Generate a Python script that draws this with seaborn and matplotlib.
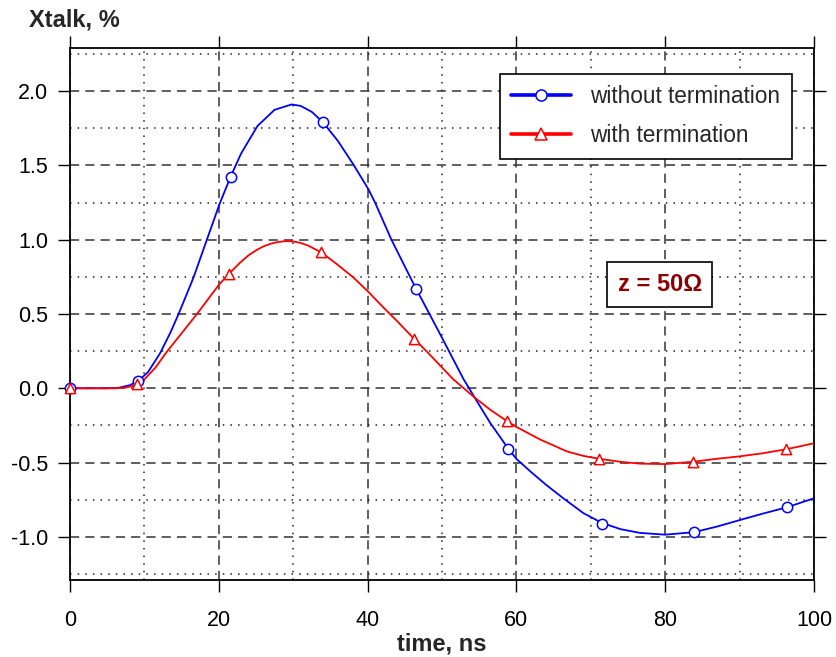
import matplotlib
matplotlib.use("Agg")
import matplotlib.pyplot as plt
import seaborn as sns
from matplotlib.lines import Line2D
from matplotlib.ticker import MultipleLocator, FormatStrFormatter

# ---- data ----
blue_x = [0, 5, 6.5, 8, 9.2, 10.5, 12.1, 13.5, 14.6, 16.6, 18.4, 20.1, 21.6, 23, 25.2,
          27.5, 29.8, 31, 32.5, 34.0, 36, 38.1, 40.1, 41.0, 43.2, 45.0, 46.5, 48, 50,
          52.9, 54.4, 56.45, 58.9, 60.0, 62, 64, 66.3, 69, 71.5, 74, 76.6, 80, 83.9, 87,
          90, 93, 96.4, 100]
blue_y = [0, 0, 0.003, 0.02, 0.05, 0.11, 0.235, 0.375, 0.50, 0.745, 1.0, 1.24, 1.425, 1.58,
          1.765, 1.874, 1.91, 1.90, 1.86, 1.79, 1.665, 1.505, 1.34, 1.25, 1.0, 0.82, 0.671,
          0.53, 0.34, 0.061, -0.063, -0.231, -0.406, -0.475, -0.565, -0.65, -0.74, -0.84,
          -0.906, -0.948, -0.973, -0.985, -0.968, -0.93, -0.887, -0.845, -0.80, -0.74]

red_x = [0, 6, 7.5, 8.74, 10, 11.5, 13.0, 15, 17.0, 20.07, 21.4, 22.85, 24, 25, 26, 27, 28,
         29.0, 30, 31, 32, 33.8, 36, 38.1, 40.1, 42, 44, 46.3, 48, 50, 51.5, 54.4, 56.5,
         58.7, 60.0, 63.2, 66.8, 69, 71.1, 74, 76.6, 80, 83.8, 87, 90, 93, 96.3, 100]
red_y = [0, 0, 0.005, 0.02, 0.06, 0.14, 0.245, 0.37, 0.496, 0.70, 0.772, 0.845, 0.895,
         0.928, 0.955, 0.973, 0.985, 0.99, 0.988, 0.978, 0.96, 0.914, 0.83, 0.745, 0.649,
         0.55, 0.45, 0.33, 0.245, 0.14, 0.061, -0.063, -0.145, -0.22, -0.26, -0.345,
         -0.425, -0.455, -0.474, -0.495, -0.507, -0.51, -0.494, -0.474, -0.458, -0.438,
         -0.41, -0.37]

blue_mx = [0, 9.2, 21.6, 34.0, 46.5, 58.9, 71.5, 83.9, 96.4]
blue_my = [0, 0.049, 1.425, 1.789, 0.671, -0.406, -0.911, -0.968, -0.80]
red_mx = [0, 9.0, 21.4, 33.8, 46.3, 58.7, 71.1, 83.8, 96.3]
red_my = [0, 0.03, 0.772, 0.914, 0.33, -0.22, -0.474, -0.494, -0.41]

labels = ["without termination", "with termination"]
x_ticks = [0, 20, 40, 60, 80, 100]
y_ticks = [-1.0, -0.5, 0.0, 0.5, 1.0, 1.5, 2.0]

BLUE = "#0000ff"
RED = "#ff0000"

sns.set_style("ticks")
plt.rcParams["font.family"] = ["Liberation Sans", "DejaVu Sans"]
plt.rcParams["axes.unicode_minus"] = False

fig, ax = plt.subplots(figsize=(8.36, 6.57), dpi=100)
fig.subplots_adjust(left=0.0837, right=0.9737, top=0.927, bottom=0.1172)

sns.lineplot(x=blue_x, y=blue_y, color=BLUE, lw=1.3, ax=ax, estimator=None, sort=False, zorder=3)
sns.lineplot(x=red_x, y=red_y, color=RED, lw=1.3, ax=ax, estimator=None, sort=False, zorder=3)
sns.scatterplot(x=blue_mx, y=blue_my, marker="o", s=55, color="white", edgecolor=BLUE,
                linewidth=1.1, ax=ax, zorder=4, clip_on=False)
sns.scatterplot(x=red_mx, y=red_my, marker="^", s=55, color="white", edgecolor=RED,
                linewidth=1.1, ax=ax, zorder=4, clip_on=False)

ax.set_xlim(0, 100)
ax.set_ylim(-1.29, 2.29)
ax.set_xticks(x_ticks)
ax.set_yticks(y_ticks)
ax.yaxis.set_major_formatter(FormatStrFormatter("%.1f"))
ax.xaxis.set_minor_locator(MultipleLocator(10))
ax.yaxis.set_minor_locator(MultipleLocator(0.25))

ax.grid(which="major", linestyle=(0, (6, 4)), color="#333333", lw=1.1)
ax.grid(which="minor", linestyle=(0, (1, 4)), color="#222222", lw=1.1)
ax.set_axisbelow(True)

for sp in ax.spines.values():
    sp.set_visible(True)
    sp.set_color("black")
    sp.set_linewidth(1.3)

ax.tick_params(which="major", direction="out", length=8.5, width=1.0, colors="black",
               top=True, right=True, labeltop=False, labelright=False,
               labelsize=15.5)
ax.tick_params(axis="x", which="major", pad=13)
ax.tick_params(axis="y", which="major", pad=7)
ax.tick_params(which="minor", length=0)

ax.set_xlabel("time, ns", fontsize=17, fontweight="bold", labelpad=1.0)
ax.set_ylabel("")
fig.text(29 / 836, 1 - 26.7 / 657, "Xtalk, %", fontsize=17, fontweight="bold",
         ha="left", va="baseline")

ax.text(0.7926, 0.5555, "z = 50\u03a9", transform=ax.transAxes, fontsize=17,
        fontweight="bold", color="#8c0000", ha="center", va="center",
        bbox=dict(boxstyle="square,pad=0.45", fc="white", ec="black", lw=1.2), zorder=5)

handles = [
    Line2D([0], [0], color=BLUE, lw=2.6, marker="o", ms=8, mfc="white", mec=BLUE, mew=1.1),
    Line2D([0], [0], color=RED, lw=2.6, marker="^", ms=8, mfc="white", mec=RED, mew=1.1),
]
leg = ax.legend(handles, labels, loc="upper right", bbox_to_anchor=(0.970, 0.951),
                fontsize=16.3, frameon=True, fancybox=False, edgecolor="black",
                framealpha=1, borderpad=0.5, labelspacing=0.7, handlelength=2.65,
                handletextpad=0.84, borderaxespad=0)
leg.get_frame().set_linewidth(1.2)

fig.savefig("out.png", dpi=100)
